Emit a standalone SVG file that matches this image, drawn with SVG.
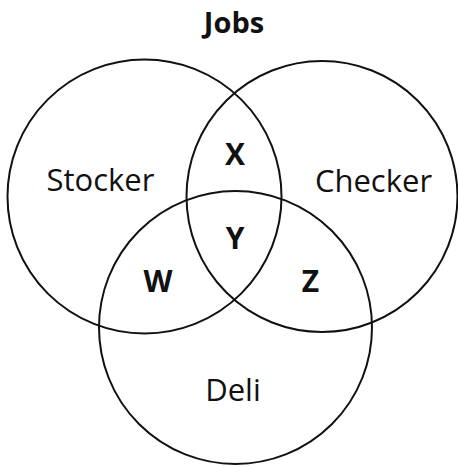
<svg xmlns="http://www.w3.org/2000/svg" width="458" height="466" viewBox="0 0 458 466">
<style>
.c{fill:none;stroke:#111;stroke-width:2}
.t{font-family:"Open Sans","Noto Sans",sans-serif;fill:#111;text-anchor:middle}
.b{font-weight:bold}
</style>
<rect width="458" height="466" fill="#fff"/>
<text class="t b" x="234" y="33" font-size="29">Jobs</text>
<g id="connectors"></g>
<g id="stocker"><circle class="c" cx="144.5" cy="196.5" r="137"/><text class="t" x="100.5" y="191" font-size="31">Stocker</text></g>
<g id="checker"><circle class="c" cx="322" cy="196.5" r="135.5"/><text class="t" x="373.5" y="192" font-size="31">Checker</text></g>
<g id="deli"><circle class="c" cx="235.5" cy="327.5" r="136.5"/><text class="t" x="233" y="401" font-size="31">Deli</text></g>
<g id="x"><text class="t b" x="235" y="165" font-size="30">X</text></g>
<g id="y"><text class="t b" x="235" y="249" font-size="30">Y</text></g>
<g id="w"><text class="t b" x="158" y="292" font-size="30">W</text></g>
<g id="z"><text class="t b" x="310.5" y="292" font-size="30">Z</text></g>
</svg>
